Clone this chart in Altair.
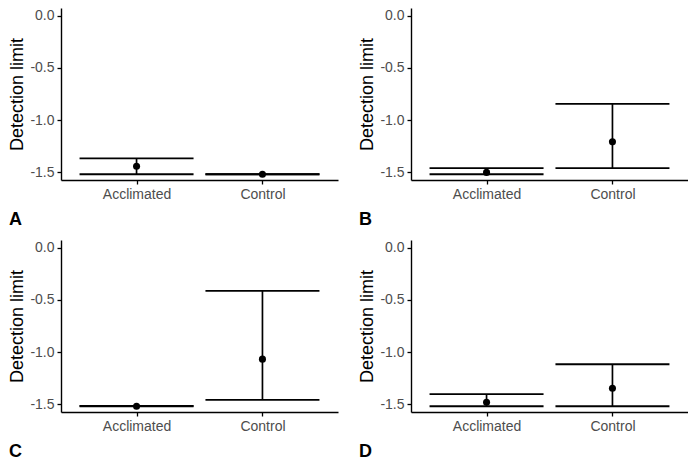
import altair as alt
import pandas as pd

panels = ["A", "B", "C", "D"]
groups = ["Acclimated", "Control"]
means = {"A": [-1.443, -1.52], "B": [-1.502, -1.209], "C": [-1.52, -1.068], "D": [-1.481, -1.347]}
lowers = {"A": [-1.52, -1.52], "B": [-1.52, -1.462], "C": [-1.52, -1.459], "D": [-1.52, -1.52]}
uppers = {"A": [-1.368, -1.52], "B": [-1.462, -0.844], "C": [-1.516, -0.414], "D": [-1.403, -1.117]}
y_ticks = [0.0, -0.5, -1.0, -1.5]

FONT = "Liberation Sans"


def panel(letter):
    df = pd.DataFrame({
        "group": groups,
        "mean": means[letter],
        "lower": lowers[letter],
        "upper": uppers[letter],
    })
    x = alt.X("group:N", scale=alt.Scale(type="point", padding=0.6, domain=groups),
              axis=alt.Axis(title=None, labelAngle=0))
    yscale = alt.Scale(domain=[-1.575, 0.075], nice=False, zero=False)
    yaxis = alt.Axis(title="Detection limit", values=y_ticks,
                     labelExpr="replace(format(datum.value, '.1f'), '\u2212', '-')")
    base = alt.Chart(df)
    rule = base.mark_rule(color="black", strokeWidth=1.7).encode(
        x=x, y=alt.Y("lower:Q", scale=yscale, axis=yaxis), y2="upper:Q")
    caps = base.transform_fold(["lower", "upper"], as_=["which", "val"]).mark_tick(
        color="black", size=114, thickness=1.8, opacity=1).encode(
        x=x, y=alt.Y("val:Q", scale=yscale, axis=yaxis))
    pts = base.mark_point(filled=True, color="black", size=50, opacity=1).encode(
        x=x, y=alt.Y("mean:Q", scale=yscale, axis=yaxis))
    return alt.layer(rule, caps, pts).properties(
        width=277, height=172,
        title=alt.TitleParams(text=letter, orient="bottom", anchor="start", frame="bounds",
                              fontSize=18, fontWeight="bold", font=FONT, color="black", offset=10),
    )


chart = alt.vconcat(
    alt.hconcat(panel("A"), panel("B"), spacing=20),
    alt.hconcat(panel("C"), panel("D"), spacing=20),
    spacing=11,
).configure_view(stroke=None).configure_axis(
    grid=False, domainColor="black", domainWidth=1.4, tickColor="black", tickWidth=1.3,
    tickSize=4, labelFont=FONT, labelFontSize=14, labelColor="#4d4d4d", labelPadding=3,
    titleFont=FONT, titleFontSize=18, titleFontWeight="normal", titleColor="black", titlePadding=3,
).properties(padding=0)

chart.save("out.html", embed_options={"renderer": "svg", "actions": False})
